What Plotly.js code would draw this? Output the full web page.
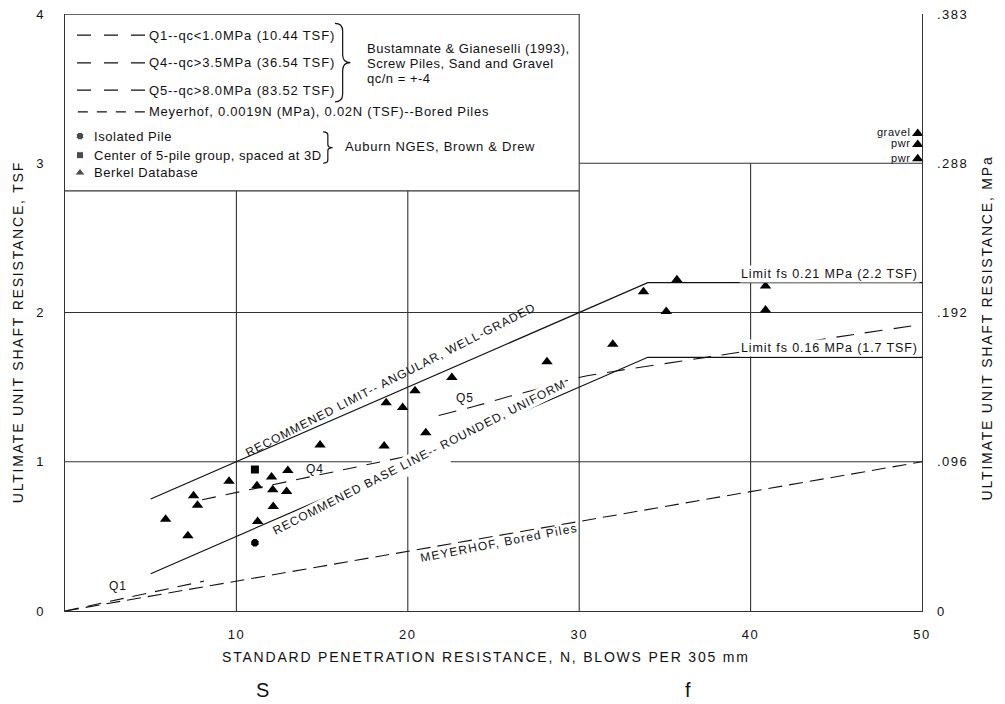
<!DOCTYPE html>
<html>
<head>
<meta charset="utf-8">
<script src="https://cdn.plot.ly/plotly-3.0.1.min.js"></script>
<style>html,body{margin:0;padding:0;background:#fff;}#chart{width:1005px;height:704px;}</style>
</head>
<body>
<div id="chart"></div>
<script>
// ---------------- DATA ----------------
// Berkel database (triangles): N (blows/305 mm) and unit shaft resistance (TSF)
const berkelN = [5.87, 7.17, 7.50, 7.73, 9.57, 11.20, 11.24, 12.05, 12.12, 12.15, 12.93, 13.00, 14.88, 18.62, 18.74, 19.70, 20.42, 21.05, 22.57, 28.12, 31.96, 33.75, 35.08, 35.70, 40.87, 40.87];
const berkelT = [0.615, 0.505, 0.772, 0.708, 0.870, 0.840, 0.600, 0.898, 0.812, 0.700, 0.800, 0.942, 1.112, 1.105, 1.395, 1.364, 1.475, 1.195, 1.564, 1.670, 1.788, 2.139, 2.006, 2.220, 2.178, 2.016];
// labelled Berkel points at the right edge
const labeledN = [49.75, 49.75, 49.75];
const labeledT = [3.20, 3.125, 3.03];
const labeledText = ['gravel', 'pwr', 'pwr'];
// Auburn NGES
const groupN = [11.08];
const groupT = [0.948];
const isolatedN = [11.08];
const isolatedT = [0.457];
// design lines
const limitN = [5, 34, 50];
const upperT = [0.75, 2.2, 2.2];
const baseT = [0.25, 1.7, 1.7];
const meyerN = [0, 50];
const meyerT = [0, 1];
const q1N = [0, 8.1];
const q1T = [0, 0.2];
const q4N = [8.0, 21.5];
const q4T = [0.745, 1.075];
const q5N = [21.8, 24, 26, 28, 30, 32, 36, 40, 45, 50];
const q5T = [1.31, 1.375, 1.44, 1.5, 1.565, 1.605, 1.675, 1.745, 1.835, 1.92];
// axes
const xTicks = [10, 20, 30, 40, 50];
const yTicks = [0, 1, 2, 3, 4];
const yTickLabels = ['0', '1', '2', '3', '4'];
const y2TickLabels = ['0', '.096', '.192', '.288', '.383'];

// ---------------- STYLE ----------------
const FONT = 'Liberation Sans, Arial, Helvetica, sans-serif';
const INK = '#111';
const GRID = '#333';
function sp(t, ls) { return '<span style="letter-spacing:' + ls + 'px">' + t + '</span>'; }

const traces = [
  {x: meyerN, y: meyerT, mode: 'lines', line: {color: INK, width: 1.1, dash: '14px,7px'}, hoverinfo: 'skip'},
  {x: q1N, y: q1T, mode: 'lines', line: {color: INK, width: 1.1, dash: '14px,9px'}, hoverinfo: 'skip'},
  {x: q4N, y: q4T, mode: 'lines', line: {color: INK, width: 1.1, dash: '14px,10px'}, hoverinfo: 'skip'},
  {x: q5N, y: q5T, mode: 'lines', line: {color: INK, width: 1.1, dash: '18px,11px', shape: 'spline'}, hoverinfo: 'skip'},
  {x: limitN, y: upperT, mode: 'lines', line: {color: INK, width: 1.2}, hoverinfo: 'skip'},
  {x: limitN, y: baseT, mode: 'lines', line: {color: INK, width: 1.2}, hoverinfo: 'skip'},
  {x: berkelN, y: berkelT, mode: 'markers', marker: {symbol: 'triangle-up', size: 10, color: '#000'}},
  {x: labeledN, y: labeledT, mode: 'markers+text', text: labeledText.map(t => sp(t, 0.6)), textposition: 'middle left',
   textfont: {family: FONT, size: 11, color: INK}, marker: {symbol: 'triangle-up', size: 10, color: '#000'}, cliponaxis: false},
  {x: groupN, y: groupT, mode: 'markers', marker: {symbol: 'square', size: 8, color: '#000'}},
  {x: isolatedN, y: isolatedT, mode: 'markers', marker: {symbol: 'octagon', size: 8, color: '#000'}},
  // legend keys
  {x: [0.875, 0.875, 0.875], y: [3.182, 3.054, 2.936], mode: 'markers',
   marker: {symbol: ['octagon', 'square', 'triangle-up'], size: [8, 7, 9], color: '#000'}, hoverinfo: 'skip'},
  // right axis anchor
  {x: [0], y: [0], yaxis: 'y2', mode: 'markers', marker: {opacity: 0}, hoverinfo: 'skip'}
];

// ---------------- SHAPES ----------------
function seg(x0, y0, x1, y1, w, dash, col) {
  return {type: 'line', xref: 'x', yref: 'y', x0: x0, y0: y0, x1: x1, y1: y1, layer: 'below',
          line: {color: col || GRID, width: w || 1.1, dash: dash || 'solid'}};
}
function brace(x0, w, yt, yb) {
  const xm = x0 + w * 0.5, x1 = x0 + w, ym = (yt + yb) / 2, e = (yt - yb) * 0.1;
  return {type: 'path', xref: 'x', yref: 'y', line: {color: INK, width: 1.2},
    path: 'M' + x0 + ',' + yt + ' Q' + xm + ',' + yt + ' ' + xm + ',' + (yt - e) +
          ' L' + xm + ',' + (ym + e) + ' Q' + xm + ',' + ym + ' ' + x1 + ',' + ym +
          ' Q' + xm + ',' + ym + ' ' + xm + ',' + (ym - e) +
          ' L' + xm + ',' + (yb + e) + ' Q' + xm + ',' + yb + ' ' + x0 + ',' + yb};
}
const LB = 2.815; // legend box bottom
const shapes = [
  seg(10, 0, 10, LB), seg(20, 0, 20, 0.9), seg(20, 1.03, 20, LB), seg(30, 0, 30, 4), seg(40, 0, 40, 3),
  seg(0, 1, 17.9, 1), seg(22.5, 1, 50, 1), seg(0, 2, 50, 2), seg(30, 3, 50, 3),
  seg(0, LB, 30, LB, 1.3), seg(0, 4, 30, 4, 1.3),
  // legend line samples
  seg(0.7, 3.859, 4.67, 3.859, 1.2, '14px,13px', INK),
  seg(0.7, 3.673, 4.67, 3.673, 1.2, '14px,13px', INK),
  seg(0.7, 3.490, 4.67, 3.490, 1.2, '14px,13px', INK),
  seg(0.75, 3.344, 4.67, 3.344, 1.2, '10px,9px', INK),
  brace(15.75, 0.9, 3.937, 3.411),
  brace(15.06, 0.55, 3.21, 3.0)
];

// ---------------- ANNOTATIONS ----------------
function txt(x, y, t, size, ls, extra) {
  return Object.assign({x: x, y: y, xref: 'x', yref: 'y', text: sp(t, ls), showarrow: false,
    font: {family: FONT, size: size, color: INK}, xanchor: 'center', yanchor: 'middle'}, extra || {});
}
function ptxt(x, y, t, size, ls, extra) {
  return Object.assign({x: x, y: y, xref: 'paper', yref: 'paper', text: sp(t, ls), showarrow: false,
    font: {family: FONT, size: size, color: INK}, xanchor: 'center', yanchor: 'middle'}, extra || {});
}
const L = {xanchor: 'left'};
const annotations = [
  // legend texts
  txt(4.81, 3.859, 'Q1--qc&lt;1.0MPa (10.44 TSF)', 13, 0.85, L),
  txt(4.81, 3.673, 'Q4--qc&gt;3.5MPa (36.54 TSF)', 13, 0.85, L),
  txt(4.81, 3.490, 'Q5--qc&gt;8.0MPa (83.52 TSF)', 13, 0.85, L),
  txt(4.81, 3.344, 'Meyerhof, 0.0019N (MPa), 0.02N (TSF)--Bored Piles', 13, 0.75, L),
  txt(17.5, 3.769, 'Bustamnate &amp; Gianeselli (1993),', 13, 0.5, L),
  txt(17.5, 3.669, 'Screw Piles, Sand and Gravel', 13, 0.5, L),
  txt(17.5, 3.568, 'qc/n = +-4', 13, 0.5, L),
  txt(1.56, 3.182, 'Isolated Pile', 13, 0.55, L),
  txt(1.56, 3.054, 'Center of 5-pile group, spaced at 3D', 13, 0.5, L),
  txt(1.56, 2.936, 'Berkel Database', 13, 0.55, L),
  txt(16.24, 3.11, 'Auburn NGES, Brown &amp; Drew', 13, 0.7, L),
  // in-plot labels
  txt(19.0, 1.545, 'RECOMMENED LIMIT-- ANGULAR, WELL-GRADED', 12, 1.0, {textangle: -27}),
  txt(20.7, 1.03, 'RECOMMENED BASE LINE-- ROUNDED, UNIFORM', 12, 1.0, {textangle: -27, bgcolor: '#fff', borderpad: 0}),
  txt(25.3, 0.456, 'MEYERHOF, Bored Piles', 12, 1.2, {textangle: -11}),
  txt(3.1, 0.168, 'Q1', 12, 1.0),
  txt(14.6, 0.954, 'Q4', 12, 1.0),
  txt(23.34, 1.424, 'Q5', 12, 1.0),
  txt(50, 2.255, 'Limit fs 0.21 MPa (2.2 TSF)', 12.5, 0.9, {xanchor: 'right', xshift: -2, bgcolor: '#fff'}),
  txt(50, 1.759, 'Limit fs 0.16 MPa (1.7 TSF)', 12.5, 0.9, {xanchor: 'right', xshift: -2, bgcolor: '#fff'}),
  // axis titles and stray letters
  ptxt(0.4918, -0.0776, 'STANDARD PENETRATION RESISTANCE, N, BLOWS PER 305 mm', 14, 1.8),
  ptxt(-0.0548, 0.467, 'ULTIMATE UNIT SHAFT RESISTANCE, TSF', 14, 1.8, {textangle: -90}),
  ptxt(1.0758, 0.475, 'ULTIMATE UNIT SHAFT RESISTANCE, MPa', 14, 1.8, {textangle: -90}),
  ptxt(0.231, -0.133, 'S', 20, 0),
  ptxt(0.727, -0.133, 'f', 20, 0)
];

const layout = {
  width: 1005, height: 704,
  margin: {l: 65, r: 83, t: 14, b: 93},
  paper_bgcolor: '#fff', plot_bgcolor: '#fff',
  showlegend: false,
  hovermode: false,
  font: {family: FONT, color: INK},
  xaxis: {range: [0, 50], showgrid: false, zeroline: false, showline: true, linecolor: GRID, linewidth: 1.3,
          tickvals: xTicks, ticktext: xTicks.map(v => sp(String(v), 1.5)), ticks: '',
          tickfont: {family: FONT, size: 13, color: INK}, ticklabelstandoff: 11, fixedrange: true},
  yaxis: {range: [0, 4], showgrid: false, zeroline: false, showline: true, linecolor: GRID, linewidth: 1.3,
          tickvals: yTicks, ticktext: yTickLabels.map(v => sp(v, 1.5)), ticks: '',
          tickfont: {family: FONT, size: 13, color: INK}, ticklabelstandoff: 16, fixedrange: true},
  yaxis2: {range: [0, 4], overlaying: 'y', side: 'right', showgrid: false, zeroline: false, showline: true,
           linecolor: GRID, linewidth: 1.3, tickvals: yTicks, ticktext: y2TickLabels.map(v => sp(v, 1.5)), ticks: '',
           tickfont: {family: FONT, size: 13, color: INK}, ticklabelstandoff: 11, fixedrange: true},
  shapes: shapes,
  annotations: annotations
};

Plotly.newPlot('chart', traces, layout, {displayModeBar: false, staticPlot: true});
</script>
</body>
</html>
